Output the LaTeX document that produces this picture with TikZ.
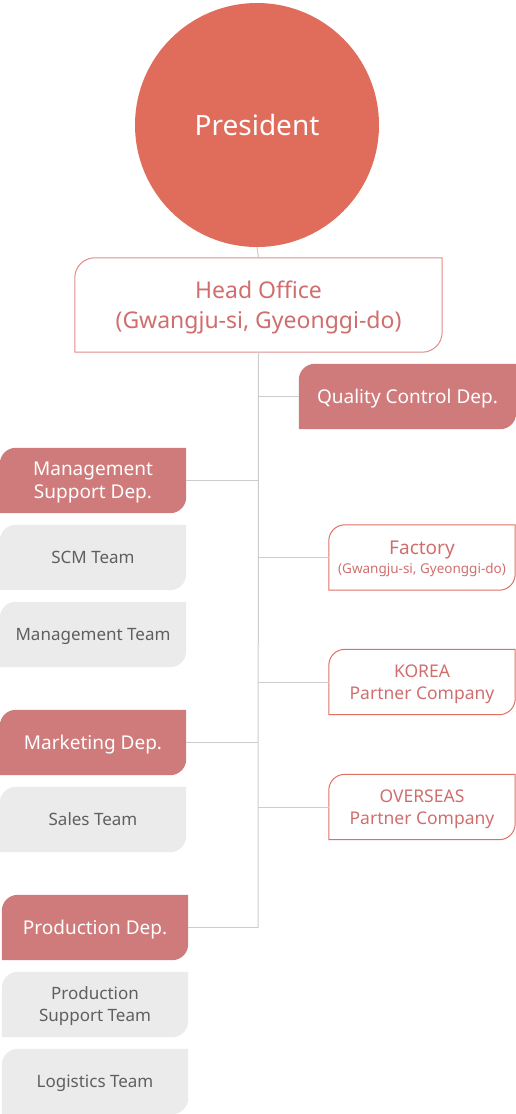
\documentclass[tikz,border=0pt]{standalone}
\usepackage{fontspec}
\setmainfont{Noto Sans}
\usetikzlibrary{backgrounds}
\definecolor{presred}{RGB}{224,109,92}
\definecolor{deptred}{RGB}{208,123,123}
\definecolor{linered}{RGB}{224,112,100}
\definecolor{headline}{RGB}{222,140,140}
\definecolor{textred}{RGB}{208,110,110}
\definecolor{teamgray}{RGB}{235,235,235}
\definecolor{teamtext}{RGB}{95,95,95}
\definecolor{wire}{RGB}{204,204,204}

% box with round top left and bottom right corners
\newcommand\leaf[2]{([xshift=#2]#1.north west) -- (#1.north east) -- ([yshift=#2]#1.south east) arc[start angle=0,end angle=-90,radius=#2] -- (#1.south west) -- ([yshift=-#2]#1.north west) arc[start angle=180,end angle=90,radius=#2] -- cycle}

\tikzset{
  box/.style={minimum width=186pt, minimum height=65pt, inner sep=0pt, text depth=0pt, align=center, font=\fontsize{17}{22}\selectfont},
  dept/.style={box, text=white, font=\fontsize{19}{23}\selectfont},
  team/.style={box, text=teamtext},
  site/.style={box, text=textred, font=\fontsize{17.5}{22}\selectfont},
  wire/.style={draw=wire, line width=1pt}
}

\begin{document}
\begin{tikzpicture}[x=1pt,y=1pt]
\useasboundingbox (0,0) rectangle (516,-1114);

\node[circle, fill=presred, minimum size=244pt, text=white, font=\fontsize{28}{32}\selectfont] (pres) at (257,-125) {President};
\node[site, minimum width=367pt, minimum height=94pt, font=\fontsize{23}{30}\selectfont] (head) at (258.5,-305) {Head Office\\(Gwangju-si, Gyeonggi-do)};
\coordinate (trunk) at (258,-928);

% right side
\node[dept, minimum width=217pt] (qc) at (407.5,-396.5) {Quality Control Dep.};
\node[site] (fac) at (422,-557.5) {{\fontsize{19}{21}\selectfont Factory}\\[-3pt]{\fontsize{13.5}{15}\selectfont (Gwangju-si, Gyeonggi-do)}};
\node[site] (kor) at (422,-682) {KOREA\\Partner Company};
\node[site] (ovs) at (422,-807) {OVERSEAS\\Partner Company};

% left side
\node[dept] (msd) at (93,-480.5) {Management\\Support Dep.};
\node[team] (scm) at (93,-557.5) {SCM Team};
\node[team] (mgt) at (93,-634.5) {Management Team};
\node[dept] (mkt) at (93,-742.5) {Marketing Dep.};
\node[team] (sales) at (93,-819.5) {Sales Team};
\node[dept] (prd) at (95,-927.5) {Production Dep.};
\node[team] (pst) at (95,-1004.5) {Production\\Support Team};
\node[team] (log) at (95,-1081.5) {Logistics Team};

\begin{scope}[on background layer]
\foreach \n in {qc,msd,mkt,prd} \fill[deptred] \leaf{\n}{16pt};
\foreach \n in {scm,mgt,sales,pst,log} \fill[teamgray] \leaf{\n}{16pt};
\foreach \n in {fac,kor,ovs} \draw[linered, line width=1pt] \leaf{\n}{16pt};
\fill[white] \leaf{head}{20pt};
\draw[headline, line width=1pt] \leaf{head}{20pt};

\draw[wire] (pres.south) -- (head.north);
\draw[wire] (head.south) -- (trunk);
\foreach \n in {qc,fac,kor,ovs} \draw[wire] (\n.west) -- (\n.west -| trunk);
\foreach \n in {msd,mkt,prd} \draw[wire] (\n.east) -- (\n.east -| trunk);
\end{scope}
\end{tikzpicture}
\end{document}
